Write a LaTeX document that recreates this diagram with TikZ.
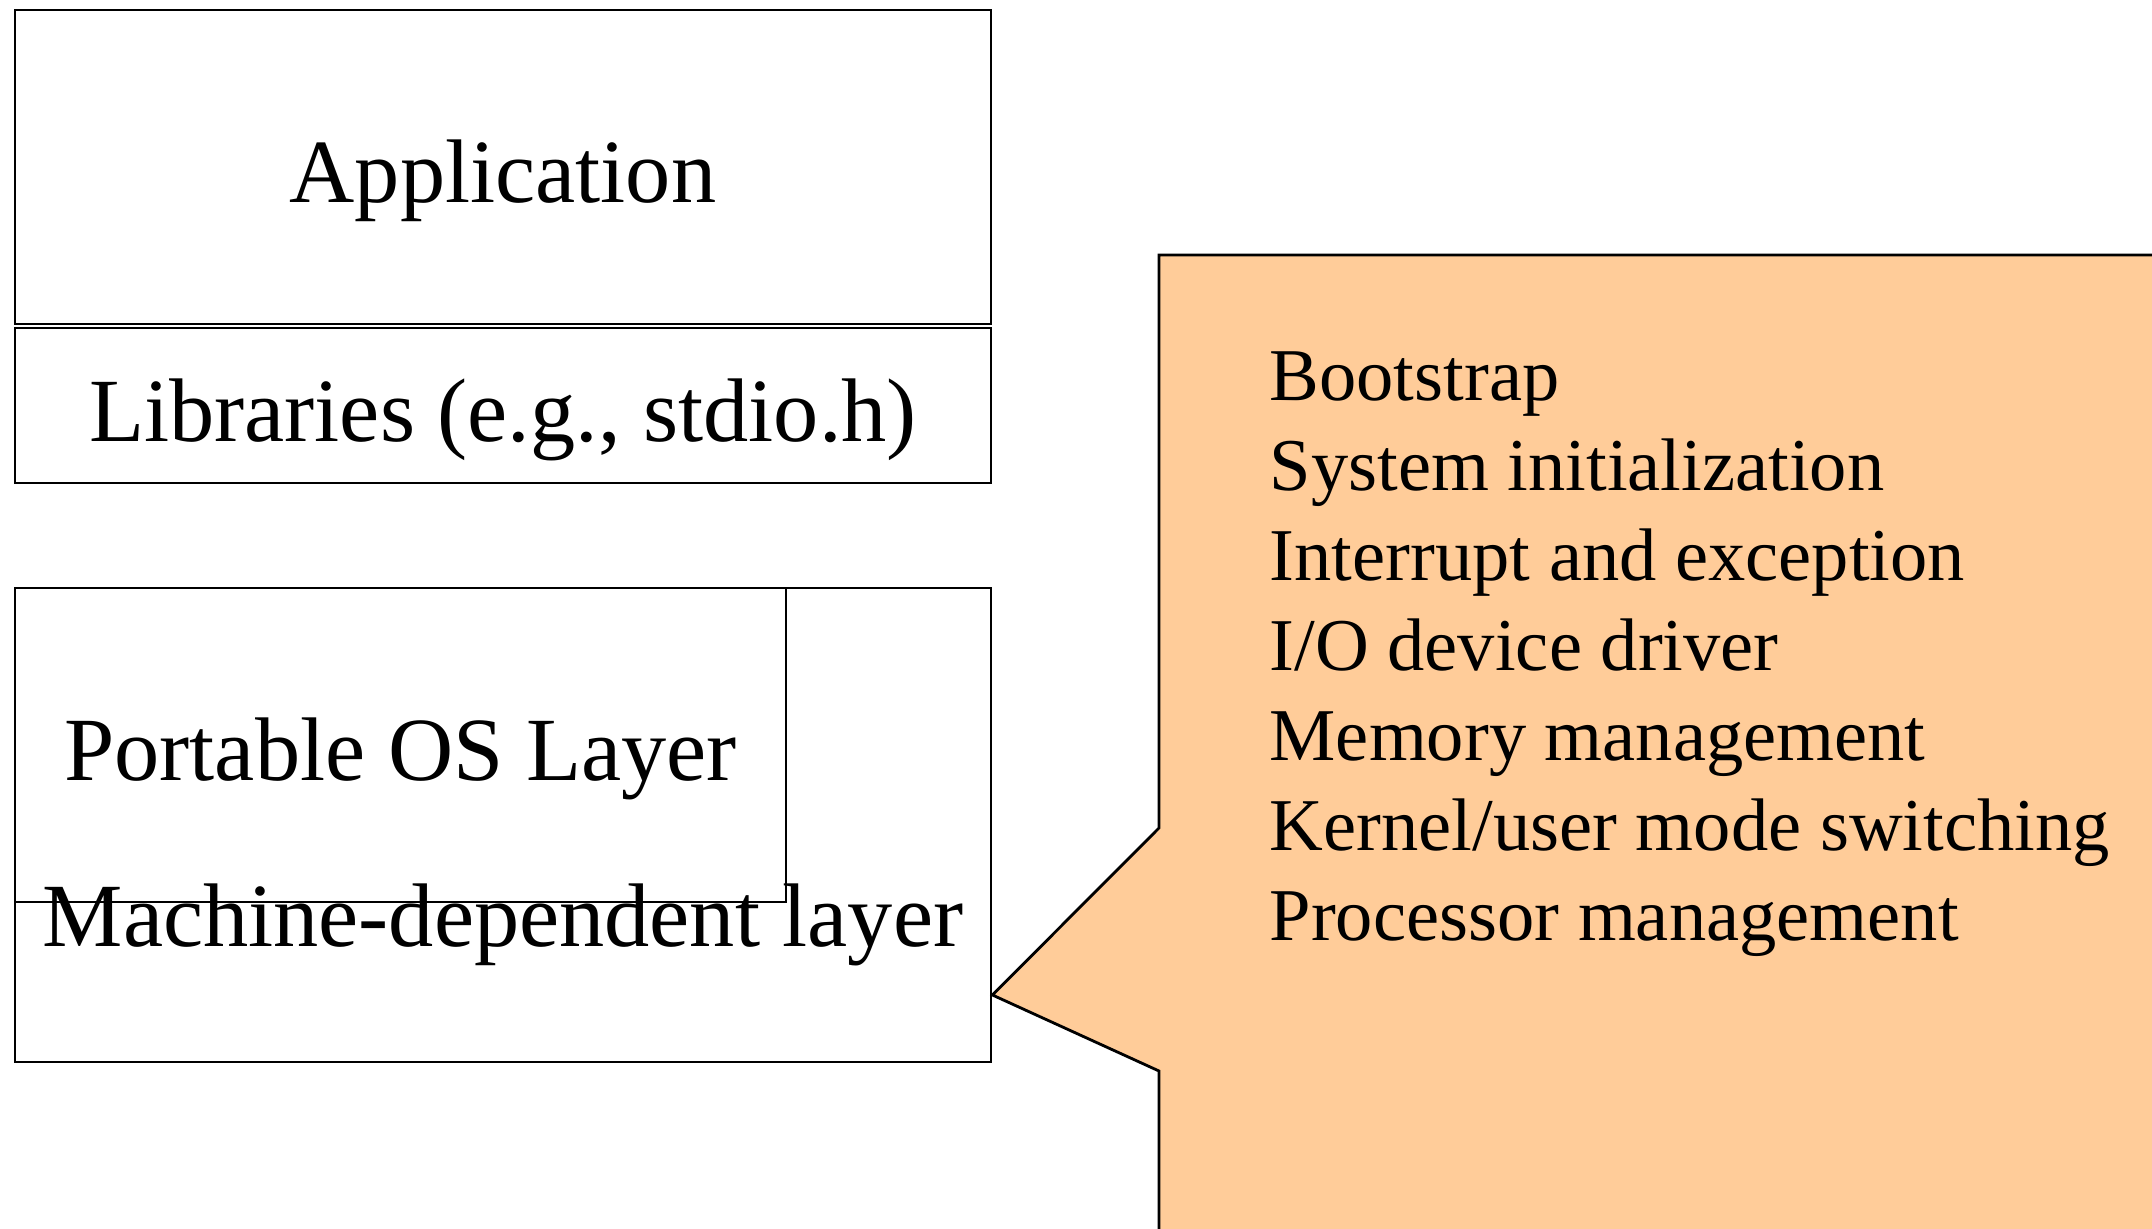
\documentclass[tikz,border=0pt]{standalone}
\usepackage{fontspec}
\setmainfont{Liberation Serif}
\usepackage{xcolor}
\definecolor{calloutpeach}{RGB}{255, 204, 153}

\tikzset{
  layerbox/.style={draw=black, line width=0.8pt, minimum width=9.76cm, inner sep=0pt},
  layertext/.style={font=\fontsize{25.7}{30}\selectfont, text height=0.8cm, text depth=0.08cm},
  funcitem/.style={anchor=base west, inner sep=0pt, font=\fontsize{21.2}{25}\selectfont}
}

\begin{document}
\begin{tikzpicture}
\useasboundingbox (0,0) rectangle (21.52,12.29);
\clip (0,0) rectangle (21.52,12.29);

% stacked layers on the left
\node[layerbox, minimum height=3.14cm, layertext] (app) at (5.03,10.62) {Application};
\node[layerbox, minimum height=1.55cm, layertext] (lib) at (5.03,8.235) {Libraries (e.g., stdio.h)};
\node[layerbox, minimum height=4.74cm] (md) at (5.03,4.04) {};
\node[font=\fontsize{25.7}{30}\selectfont, anchor=base] (mdlabel) at (5.03,2.82) {Machine-dependent layer};
\node[layerbox, minimum width=7.71cm, minimum height=3.14cm, layertext] (pos) at (4.005,4.84) {Portable OS Layer};

% callout with the machine-dependent functions
\coordinate (tip) at (md.east |- 0,2.34);
\draw[line width=0.8pt, fill=calloutpeach]
  (11.59,4.01) -- (tip) -- (11.59,1.58) -- (11.59,-1) -- (23,-1) -- (23,9.74) -- (11.59,9.74) -- cycle;

\foreach \txt [count=\i] in {Bootstrap, System initialization, Interrupt and exception, I/O device driver, Memory management, Kernel/user mode switching, Processor management}
  \node[funcitem] (func\i) at (12.69, {8.28-(\i-1)*0.9}) {\txt};
\end{tikzpicture}
\end{document}
